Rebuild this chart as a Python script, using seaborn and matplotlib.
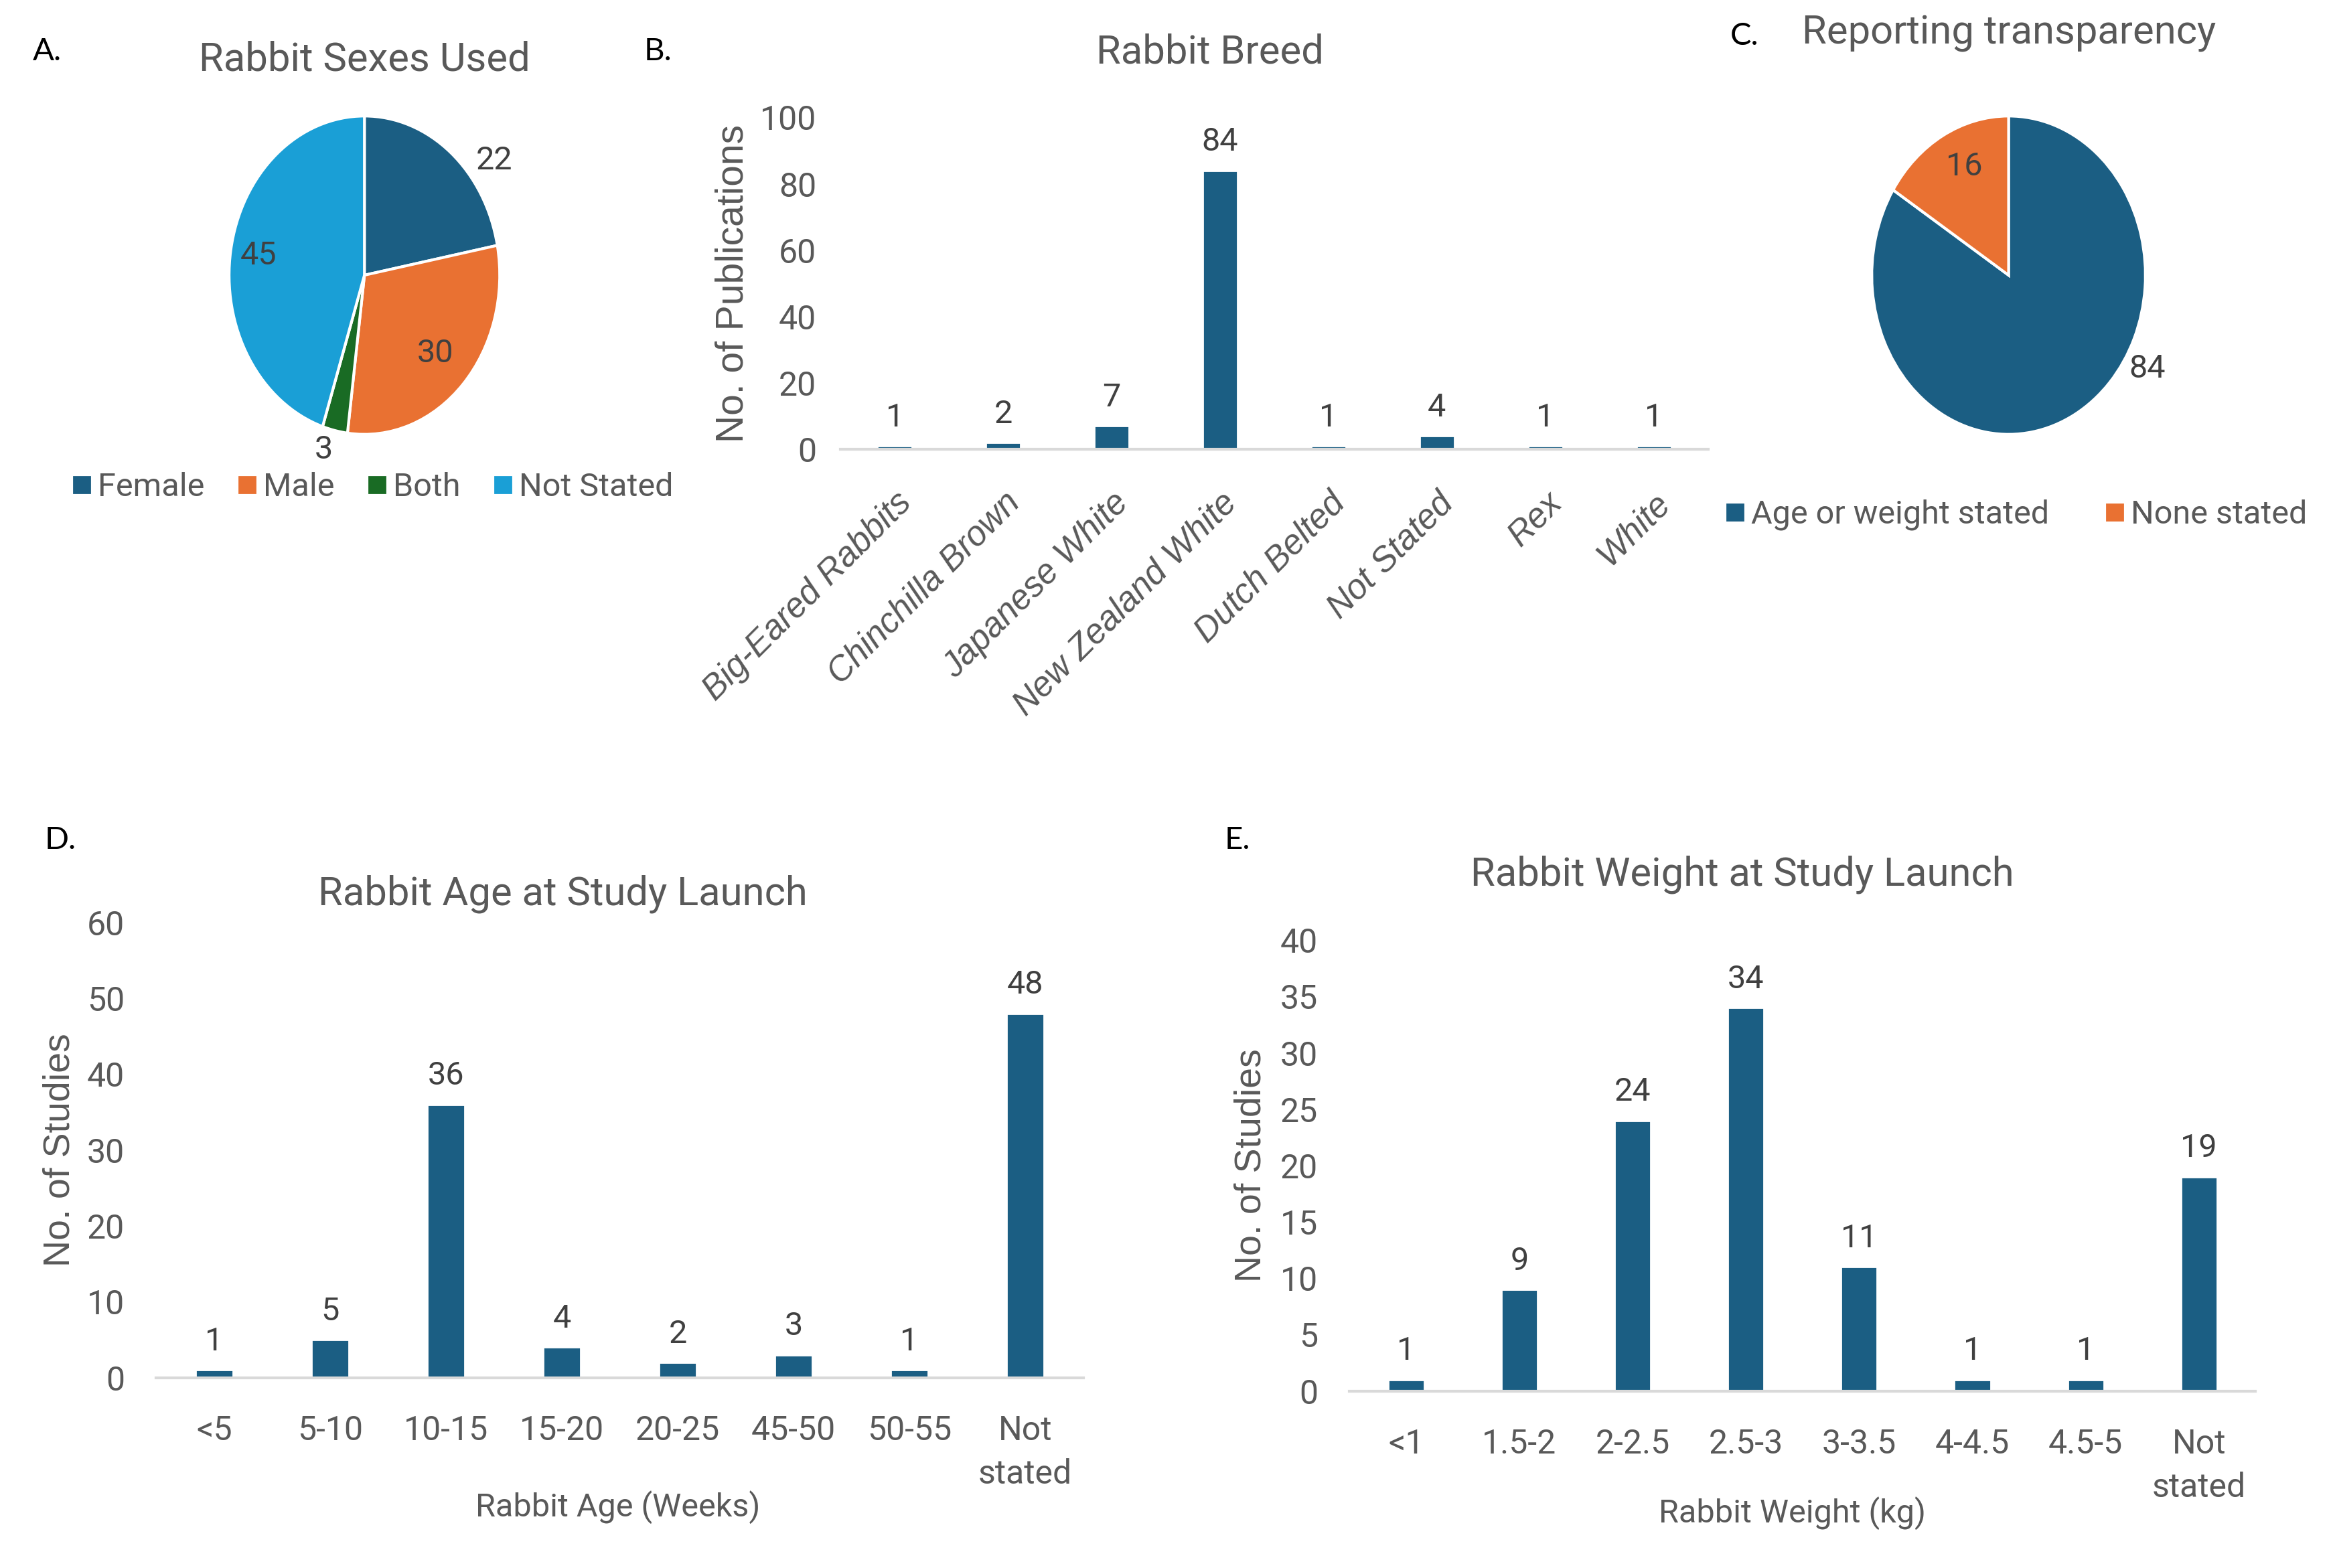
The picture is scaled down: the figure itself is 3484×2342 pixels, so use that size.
import numpy as np
import pandas as pd
import matplotlib
matplotlib.use("Agg")
import matplotlib.pyplot as plt
import seaborn as sns
from matplotlib.lines import Line2D

#%% DATA

sex_labels = ["Female", "Male", "Both", "Not Stated"]
sex_counts = [22, 30, 3, 45]

breed_labels = ["Big-Eared Rabbits", "Chinchilla Brown", "Japanese White",
                "New Zealand White", "Dutch Belted", "Not Stated", "Rex", "White"]
breed_counts = [1, 2, 7, 84, 1, 4, 1, 1]

report_labels = ["Age or weight stated", "None stated"]
report_counts = [84, 16]

age_bins = ["<5", "5-10", "10-15", "15-20", "20-25", "45-50", "50-55", "Not\nstated"]
age_counts = [1, 5, 36, 4, 2, 3, 1, 48]

weight_bins = ["<1", "1.5-2", "2-2.5", "2.5-3", "3-3.5", "4-4.5", "4.5-5", "Not\nstated"]
weight_counts = [1, 9, 24, 34, 11, 1, 1, 19]

#%% STYLE

BLUE = "#1B5E83"
ORANGE = "#E97132"
GREEN = "#196B24"
LIGHTBLUE = "#1A9FD6"
GREY = "#595959"
DARK = "#404040"

sns.set_theme(style="white")
plt.rcParams['font.family'] = ['Roboto', 'DejaVu Sans']
ARIAL = ['Liberation Sans', 'DejaVu Sans']
LETTER = ['Lato', 'DejaVu Sans']
TITLE_SIZE = 21.5
TICK_SIZE = 18

fig = plt.figure(figsize=(17.42, 11.71), dpi=200)


def draw_pie(ax, counts, colors, label_frac, label_r):
    wedges, _ = ax.pie(counts, colors=colors, startangle=90, counterclock=False,
                       wedgeprops=dict(edgecolor='white', linewidth=1.5))
    ax.set_aspect('auto')
    ax.set_xlim(-1, 1)
    ax.set_ylim(-1, 1)
    # put the value labels along each wedge
    for w, n, f, r in zip(wedges, counts, label_frac, label_r):
        ang = np.deg2rad(w.theta1 + f * (w.theta2 - w.theta1))
        ax.text(r * np.cos(ang), r * np.sin(ang), str(n), ha='center', va='center',
                fontsize=17.5, color=DARK)


def pie_legend(labels, colors, x, y, spacing):
    handles = [Line2D([], [], marker='s', linestyle='none', markersize=8.5,
                      markerfacecolor=c, markeredgecolor=c) for c in colors]
    fig.legend(handles, labels, loc='center', bbox_to_anchor=(x, y), ncol=len(labels),
               frameon=False, fontsize=17.5, labelcolor=GREY, handletextpad=0.1,
               columnspacing=spacing, handlelength=0.8)


def draw_bars(ax, cats, vals, ymax, step, ypad):
    df = pd.DataFrame({'cat': cats, 'n': vals})
    sns.barplot(data=df, x='cat', y='n', color=BLUE, width=0.32, saturation=1, ax=ax)
    ax.bar_label(ax.containers[0], padding=7, fontsize=17.5, color=DARK)
    ax.set_ylim(0, ymax)
    ax.set_yticks(range(0, ymax + 1, step))
    sns.despine(ax=ax, left=True)
    ax.spines['bottom'].set_color('#D9D9D9')
    ax.spines['bottom'].set_linewidth(1.5)
    ax.tick_params(length=0, labelsize=TICK_SIZE, labelcolor=GREY)
    ax.tick_params(axis='y', pad=ypad)
    ax.set_xlabel("")


#%% A. SEXES PIE

axA = fig.add_axes([0.0982, 0.723, 0.116, 0.203])
draw_pie(axA, sex_counts, [BLUE, ORANGE, GREEN, LIGHTBLUE],
         [0.33, 0.5, 0.25, 0.5], [1.2, 0.72, 1.14, 0.79])
pie_legend(sex_labels, [BLUE, ORANGE, GREEN, LIGHTBLUE], 0.159, 0.689, 0.9)
fig.text(0.1563, 0.962, "Rabbit Sexes Used", ha='center', va='center', fontsize=TITLE_SIZE, color=GREY)
fig.text(0.014, 0.967, "A.", ha='left', va='center', fontsize=17, family=LETTER, color='black')

#%% B. BREED BARS

axB = fig.add_axes([0.3603, 0.7135, 0.3718, 0.2116])
draw_bars(axB, breed_labels, breed_counts, 100, 20, 13)
axB.set_xticks(range(len(breed_labels)))
axB.set_xticklabels(breed_labels, rotation=45, ha='right', rotation_mode='anchor',
                    family=ARIAL, style='italic', fontsize=18.5, color=GREY)
axB.tick_params(axis='x', pad=20)
axB.set_ylabel("No. of Publications", family=ARIAL, fontsize=20.5, color=GREY)
axB.yaxis.set_label_coords(-0.103, 0.5)
fig.text(0.5185, 0.9668, "Rabbit Breed", ha='center', va='center', fontsize=TITLE_SIZE, color=GREY)
fig.text(0.276, 0.967, "B.", ha='left', va='center', fontsize=17, family=LETTER, color='black')

#%% C. REPORTING PIE

axC = fig.add_axes([0.8023, 0.723, 0.1173, 0.203])
draw_pie(axC, report_counts, [BLUE, ORANGE], [0.6025, 0.443], [1.17, 0.756])
pie_legend(report_labels, [BLUE, ORANGE], 0.8635, 0.6717, 1.6)
fig.text(0.861, 0.979, "Reporting transparency", ha='center', va='center', fontsize=TITLE_SIZE, color=GREY)
fig.text(0.7417, 0.977, "C.", ha='left', va='center', fontsize=17, family=LETTER, color='black')

#%% D. AGE BARS

axD = fig.add_axes([0.067, 0.1214, 0.3973, 0.2903])
draw_bars(axD, age_bins, age_counts, 60, 10, 17)
for t in axD.get_xticklabels():
    t.set_linespacing(1.45)
axD.tick_params(axis='x', pad=20)
axD.set_xlabel("Rabbit Age (Weeks)", fontsize=17.5, color=GREY)
axD.xaxis.set_label_coords(0.4976, -0.248)
axD.set_ylabel("No. of Studies", family=ARIAL, fontsize=20, color=GREY)
axD.yaxis.set_label_coords(-0.085, 0.5)
fig.text(0.2411, 0.4298, "Rabbit Age at Study Launch", ha='center', va='center', fontsize=TITLE_SIZE, color=GREY)
fig.text(0.0191, 0.464, "D.", ha='left', va='center', fontsize=17, family=LETTER, color='black')

#%% E. WEIGHT BARS

axE = fig.add_axes([0.5784, 0.1129, 0.3884, 0.2875])
draw_bars(axE, weight_bins, weight_counts, 40, 5, 17)
for t in axE.get_xticklabels():
    t.set_linespacing(1.45)
axE.tick_params(axis='x', pad=20)
axE.set_xlabel("Rabbit Weight (kg)", fontsize=17.5, color=GREY)
axE.xaxis.set_label_coords(0.489, -0.234)
axE.set_ylabel("No. of Studies", family=ARIAL, fontsize=20, color=GREY)
axE.yaxis.set_label_coords(-0.089, 0.5)
fig.text(0.7468, 0.4421, "Rabbit Weight at Study Launch", ha='center', va='center', fontsize=TITLE_SIZE, color=GREY)
fig.text(0.525, 0.464, "E.", ha='left', va='center', fontsize=17, family=LETTER, color='black')

fig.savefig("out.png", dpi=200, facecolor='white')
